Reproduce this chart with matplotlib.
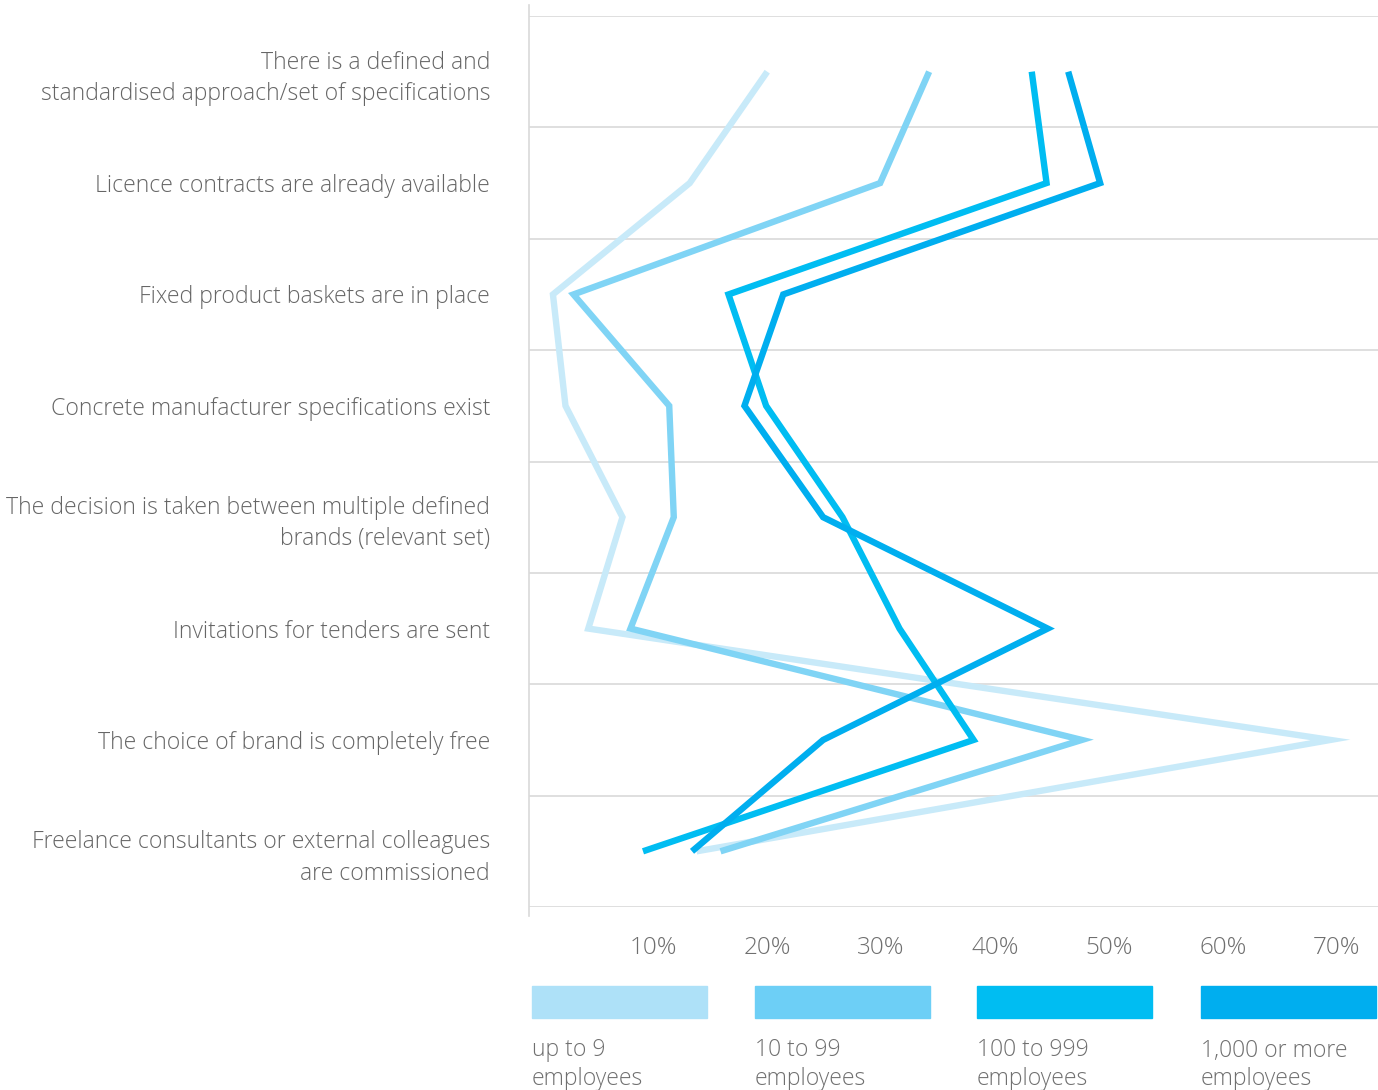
import matplotlib
matplotlib.use("Agg")
import matplotlib.pyplot as plt
import matplotlib.transforms as mtransforms
from matplotlib.patches import Rectangle

categories = [
    "There is a defined and\nstandardised approach/set of specifications",
    "Licence contracts are already available",
    "Fixed product baskets are in place",
    "Concrete manufacturer specifications exist",
    "The decision is taken between multiple defined\nbrands (relevant set)",
    "Invitations for tenders are sent",
    "The choice of brand is completely free",
    "Freelance consultants or external colleagues\nare commissioned",
]
series_names = ["up to 9\nemployees", "10 to 99\nemployees", "100 to 999\nemployees", "1,000 or more\nemployees"]
up_to_9 = [20.9, 14.1, 2.1, 3.2, 8.2, 5.2, 70.3, 14.7]
s10_99 = [35.1, 30.8, 3.9, 12.3, 12.7, 8.9, 48.5, 16.8]
s100_999 = [44.1, 45.4, 17.5, 20.8, 27.5, 32.5, 39.0, 10.0]
s1000 = [47.3, 50.1, 22.3, 18.9, 25.8, 45.5, 25.8, 14.3]
xticks = [10, 20, 30, 40, 50, 60, 70]
xtick_labels = ["10%", "20%", "30%", "40%", "50%", "60%", "70%"]

legend_colors = ["#aee1f8", "#6dcff6", "#00bdf2", "#00aeef"]
line_colors = ["#c8eaf9", "#80d4f5", "#00bdf2", "#00aeef"]

W, H = 1378, 1090
plt.rcParams['font.family'] = ['Open Sans', 'DejaVu Sans']
fig = plt.figure(figsize=(W / 100, H / 100), dpi=100)

x0, x1 = 529, 1378
y_top, y_bot = 16, 907
ax = fig.add_axes([x0 / W, (H - y_bot) / H, (x1 - x0) / W, (y_bot - y_top) / H])
ax.set_xlim(0, (x1 - x0) / 11.4)
n = len(categories)
ax.set_ylim(n - 0.5, -0.5)

for i in range(n + 1):
    ax.axhline(i - 0.5, color="#d9d9d9", lw=1.2, zorder=0)

ypos = list(range(n))
for vals, col in zip([up_to_9, s10_99, s100_999, s1000], line_colors):
    ax.plot(vals, ypos, color=col, lw=4.6, solid_joinstyle="miter",
            solid_capstyle="butt", zorder=2)

for s in ["top", "right", "bottom"]:
    ax.spines[s].set_visible(False)
ax.spines["left"].set_color("#d9d9d9")
ax.spines["left"].set_linewidth(1.2)
ax.spines["left"].set_bounds(n - 0.42, -0.6)

ax.set_yticks(ypos)
ax.set_yticklabels(categories, fontsize=16.6, color="#666666", fontweight="light",
                   linespacing=1.4)
ax.tick_params(axis="y", length=0, pad=28)

ax.set_xticks(xticks)
ax.set_xticklabels(xtick_labels, fontsize=17.5, color="#6f6f6f", fontweight="light")
ax.tick_params(axis="x", length=0, pad=21)
offset = mtransforms.ScaledTranslation(10 / 100, 0, fig.dpi_scale_trans)
for lab in ax.get_xticklabels():
    lab.set_transform(lab.get_transform() + offset)

# legend
rects_x = [532, 755, 977, 1201]
rw, rh = 175, 32
ry = 986
for rx, col, name in zip(rects_x, legend_colors, series_names):
    fig.patches.append(Rectangle((rx / W, (H - ry - rh) / H), rw / W, rh / H,
                                 transform=fig.transFigure, color=col))
    fig.text(rx / W, (H - 1085) / H, name, ha="left", va="baseline", fontsize=16.6,
             color="#707070", fontweight="light", linespacing=1.25)

fig.savefig("out.png", dpi=100)
